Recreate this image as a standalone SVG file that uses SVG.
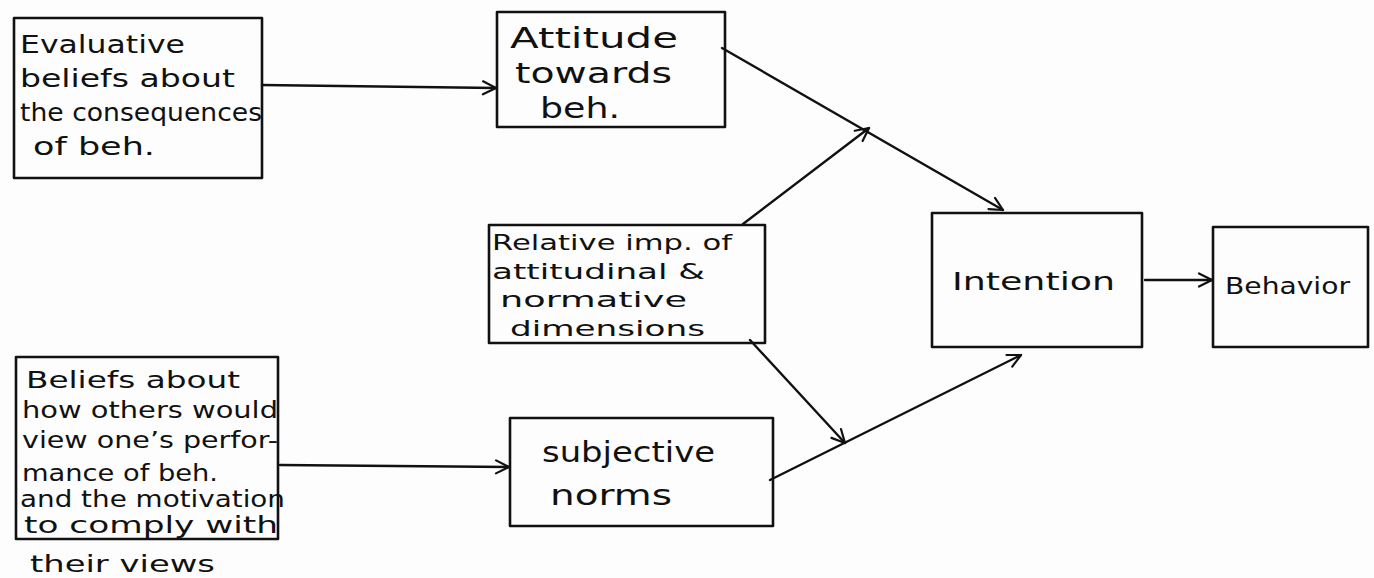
<svg xmlns="http://www.w3.org/2000/svg" width="1374" height="578" viewBox="0 0 1374 578">
  <style>
    .box { fill: none; stroke: #111; stroke-width: 2.6; stroke-linejoin: round; }
    .lbl { font-family: "DejaVu Sans", "Liberation Sans", sans-serif; font-size: 25px; fill: #111; }
    .lg { font-size: 28px; }
    .md { font-size: 23px; }
    .sm { font-size: 21px; }
    .edge { fill: none; stroke: #111; stroke-width: 2.4; stroke-linecap: round; marker-end: url(#chev); }
  </style>
  <defs>
    <marker id="chev" viewBox="0 0 16 16" refX="15" refY="8" markerWidth="16" markerHeight="16" markerUnits="userSpaceOnUse" orient="auto">
      <path d="M2,1.5 L15,8 L2,14.5" fill="none" stroke="#111" stroke-width="2.2" stroke-linecap="round" stroke-linejoin="round"/>
    </marker>
  </defs>
  <rect width="1374" height="578" fill="#fdfdfd"/>

  <g id="connectors">
    <line class="edge" x1="262" y1="85" x2="496" y2="88"/>
    <line class="edge" x1="722" y1="48" x2="1003" y2="210"/>
    <line class="edge" x1="743" y1="224" x2="869" y2="128"/>
    <line class="edge" x1="750" y1="340" x2="845" y2="443"/>
    <line class="edge" x1="770" y1="480" x2="1021" y2="355"/>
    <line class="edge" x1="280" y1="465" x2="509" y2="467"/>
    <line class="edge" x1="1145" y1="280" x2="1212" y2="280"/>
  </g>

  <g id="evaluative-beliefs">
    <rect class="box" x="14" y="18" width="248" height="160"/>
    <text class="lbl" x="20" y="53" textLength="165" lengthAdjust="spacingAndGlyphs">Evaluative</text>
    <text class="lbl" x="20" y="87" textLength="215" lengthAdjust="spacingAndGlyphs">beliefs about</text>
    <text class="lbl" x="20" y="121" textLength="242" lengthAdjust="spacingAndGlyphs">the consequences</text>
    <text class="lbl" x="33" y="155" textLength="122" lengthAdjust="spacingAndGlyphs">of beh.</text>
  </g>

  <g id="attitude">
    <rect class="box" x="497" y="12" width="228" height="115"/>
    <text class="lbl lg" x="510" y="48" textLength="168" lengthAdjust="spacingAndGlyphs">Attitude</text>
    <text class="lbl lg" x="515" y="83" textLength="157" lengthAdjust="spacingAndGlyphs">towards</text>
    <text class="lbl lg" x="540" y="118" textLength="80" lengthAdjust="spacingAndGlyphs">beh.</text>
  </g>

  <g id="relative-importance">
    <rect class="box" x="489" y="225" width="276" height="118"/>
    <text class="lbl sm" x="492" y="250" textLength="240" lengthAdjust="spacingAndGlyphs">Relative imp. of</text>
    <text class="lbl sm" x="492" y="279" textLength="213" lengthAdjust="spacingAndGlyphs">attitudinal &amp;</text>
    <text class="lbl sm" x="500" y="307" textLength="187" lengthAdjust="spacingAndGlyphs">normative</text>
    <text class="lbl sm" x="510" y="336" textLength="195" lengthAdjust="spacingAndGlyphs">dimensions</text>
  </g>

  <g id="subjective-norms">
    <rect class="box" x="510" y="418" width="263" height="108"/>
    <text class="lbl lg" x="542" y="462" textLength="173" lengthAdjust="spacingAndGlyphs">subjective</text>
    <text class="lbl lg" x="550" y="505" textLength="122" lengthAdjust="spacingAndGlyphs">norms</text>
  </g>

  <g id="normative-beliefs">
    <rect class="box" x="16" y="357" width="262" height="182"/>
    <text class="lbl md" x="26" y="388" textLength="214" lengthAdjust="spacingAndGlyphs">Beliefs about</text>
    <text class="lbl md" x="22" y="418" textLength="256" lengthAdjust="spacingAndGlyphs">how others would</text>
    <text class="lbl md" x="22" y="448" textLength="256" lengthAdjust="spacingAndGlyphs">view one’s perfor-</text>
    <text class="lbl md" x="22" y="481" textLength="196" lengthAdjust="spacingAndGlyphs">mance of beh.</text>
    <text class="lbl md" x="20" y="507" textLength="265" lengthAdjust="spacingAndGlyphs">and the motivation</text>
    <text class="lbl md" x="24" y="533" textLength="254" lengthAdjust="spacingAndGlyphs">to comply with</text>
    <text class="lbl md" x="30" y="572" textLength="185" lengthAdjust="spacingAndGlyphs">their views</text>
  </g>

  <g id="intention">
    <rect class="box" x="932" y="213" width="210" height="134"/>
    <text class="lbl" x="952" y="290" textLength="163" lengthAdjust="spacingAndGlyphs">Intention</text>
  </g>

  <g id="behavior">
    <rect class="box" x="1213" y="227" width="155" height="120"/>
    <text class="lbl md" x="1225" y="294" textLength="125" lengthAdjust="spacingAndGlyphs">Behavior</text>
  </g>
</svg>
